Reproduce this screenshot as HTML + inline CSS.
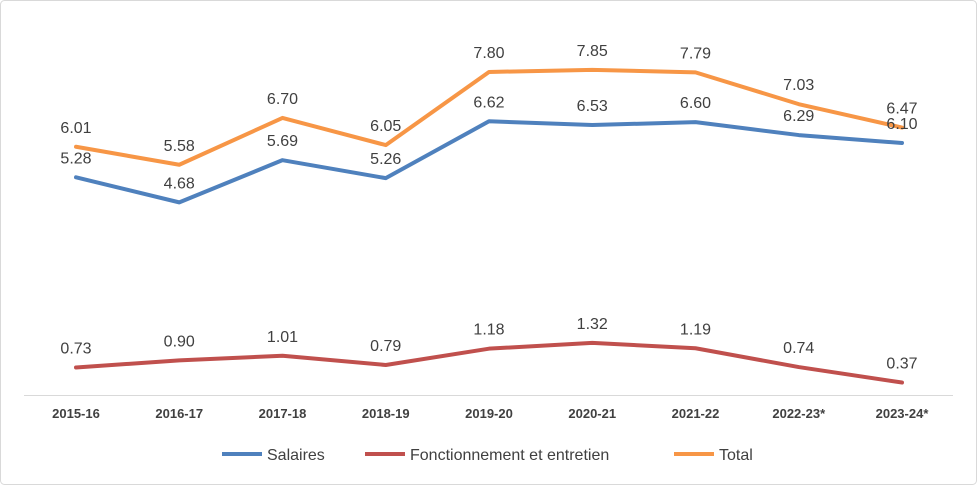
<!DOCTYPE html>
<html><head><meta charset="utf-8">
<style>
body{margin:0;background:#fff;font-family:"Liberation Sans",sans-serif;}
#wrap{position:relative;width:977px;height:485px;}
</style></head>
<body>
<div id="wrap">
<svg id="chart" width="977" height="485" xmlns="http://www.w3.org/2000/svg">
<rect x="0.5" y="0.5" width="976" height="484" rx="4" fill="#fff" stroke="#d9d9d9"/>
<line x1="24" y1="395.5" x2="953" y2="395.5" stroke="#d9d9d9"/>
<g id="xlabels"></g>
<g id="series"></g>
<g id="legend" font-size="16" fill="#404040">
<line x1="222" y1="454" x2="262" y2="454" stroke="#4f81bd" stroke-width="4"/>
<text x="267" y="460">Salaires</text>
<line x1="365" y1="454" x2="405" y2="454" stroke="#c0504d" stroke-width="4"/>
<text x="410" y="460">Fonctionnement et entretien</text>
<line x1="674" y1="454" x2="714" y2="454" stroke="#f79646" stroke-width="4"/>
<text x="719" y="460">Total</text>
</g>
</svg>
</div>
<script>
const categories=["2015-16","2016-17","2017-18","2018-19","2019-20","2020-21","2021-22","2022-23*","2023-24*"];
const salaires=[5.28,4.68,5.69,5.26,6.62,6.53,6.60,6.29,6.10];
const fonctionnement=[0.73,0.90,1.01,0.79,1.18,1.32,1.19,0.74,0.37];
const total=[6.01,5.58,6.70,6.05,7.80,7.85,7.79,7.03,6.47];
const NS="http://www.w3.org/2000/svg";
function xPos(i){return 76+i*103.25;}
function yPos(v){return 398-v*41.8;}
const xl=document.getElementById('xlabels');
categories.forEach((c,i)=>{
 const t=document.createElementNS(NS,'text');
 t.setAttribute('x',xPos(i));t.setAttribute('y',418);
 t.setAttribute('text-anchor','middle');t.setAttribute('font-size','13');
 t.setAttribute('font-weight','bold');t.setAttribute('fill','#404040');
 t.textContent=c;
 
 
 xl.appendChild(t);
});
const sg=document.getElementById('series');
function draw(vals,color,name){
 const p=document.createElementNS(NS,'polyline');
 p.setAttribute('points',vals.map((v,i)=>xPos(i)+','+yPos(v)).join(' '));
 p.setAttribute('fill','none');p.setAttribute('stroke',color);p.setAttribute('stroke-width','4');
 p.setAttribute('stroke-linejoin','round');p.setAttribute('stroke-linecap','round');
 
 
 sg.appendChild(p);
}
function labels(vals,name){
 vals.forEach((v,i)=>{
  const t=document.createElementNS(NS,'text');
  t.setAttribute('x',xPos(i));t.setAttribute('y',yPos(v)-14);
  t.setAttribute('text-anchor','middle');t.setAttribute('font-size','16');t.setAttribute('fill','#404040');
  t.textContent=v.toFixed(2);
  
  
  sg.appendChild(t);
 });
}
draw(fonctionnement,'#c0504d','fonctionnement');
draw(salaires,'#4f81bd','salaires');
draw(total,'#f79646','total');
labels(fonctionnement,'fonctionnement');
labels(salaires,'salaires');
labels(total,'total');
</script>
</body></html>
